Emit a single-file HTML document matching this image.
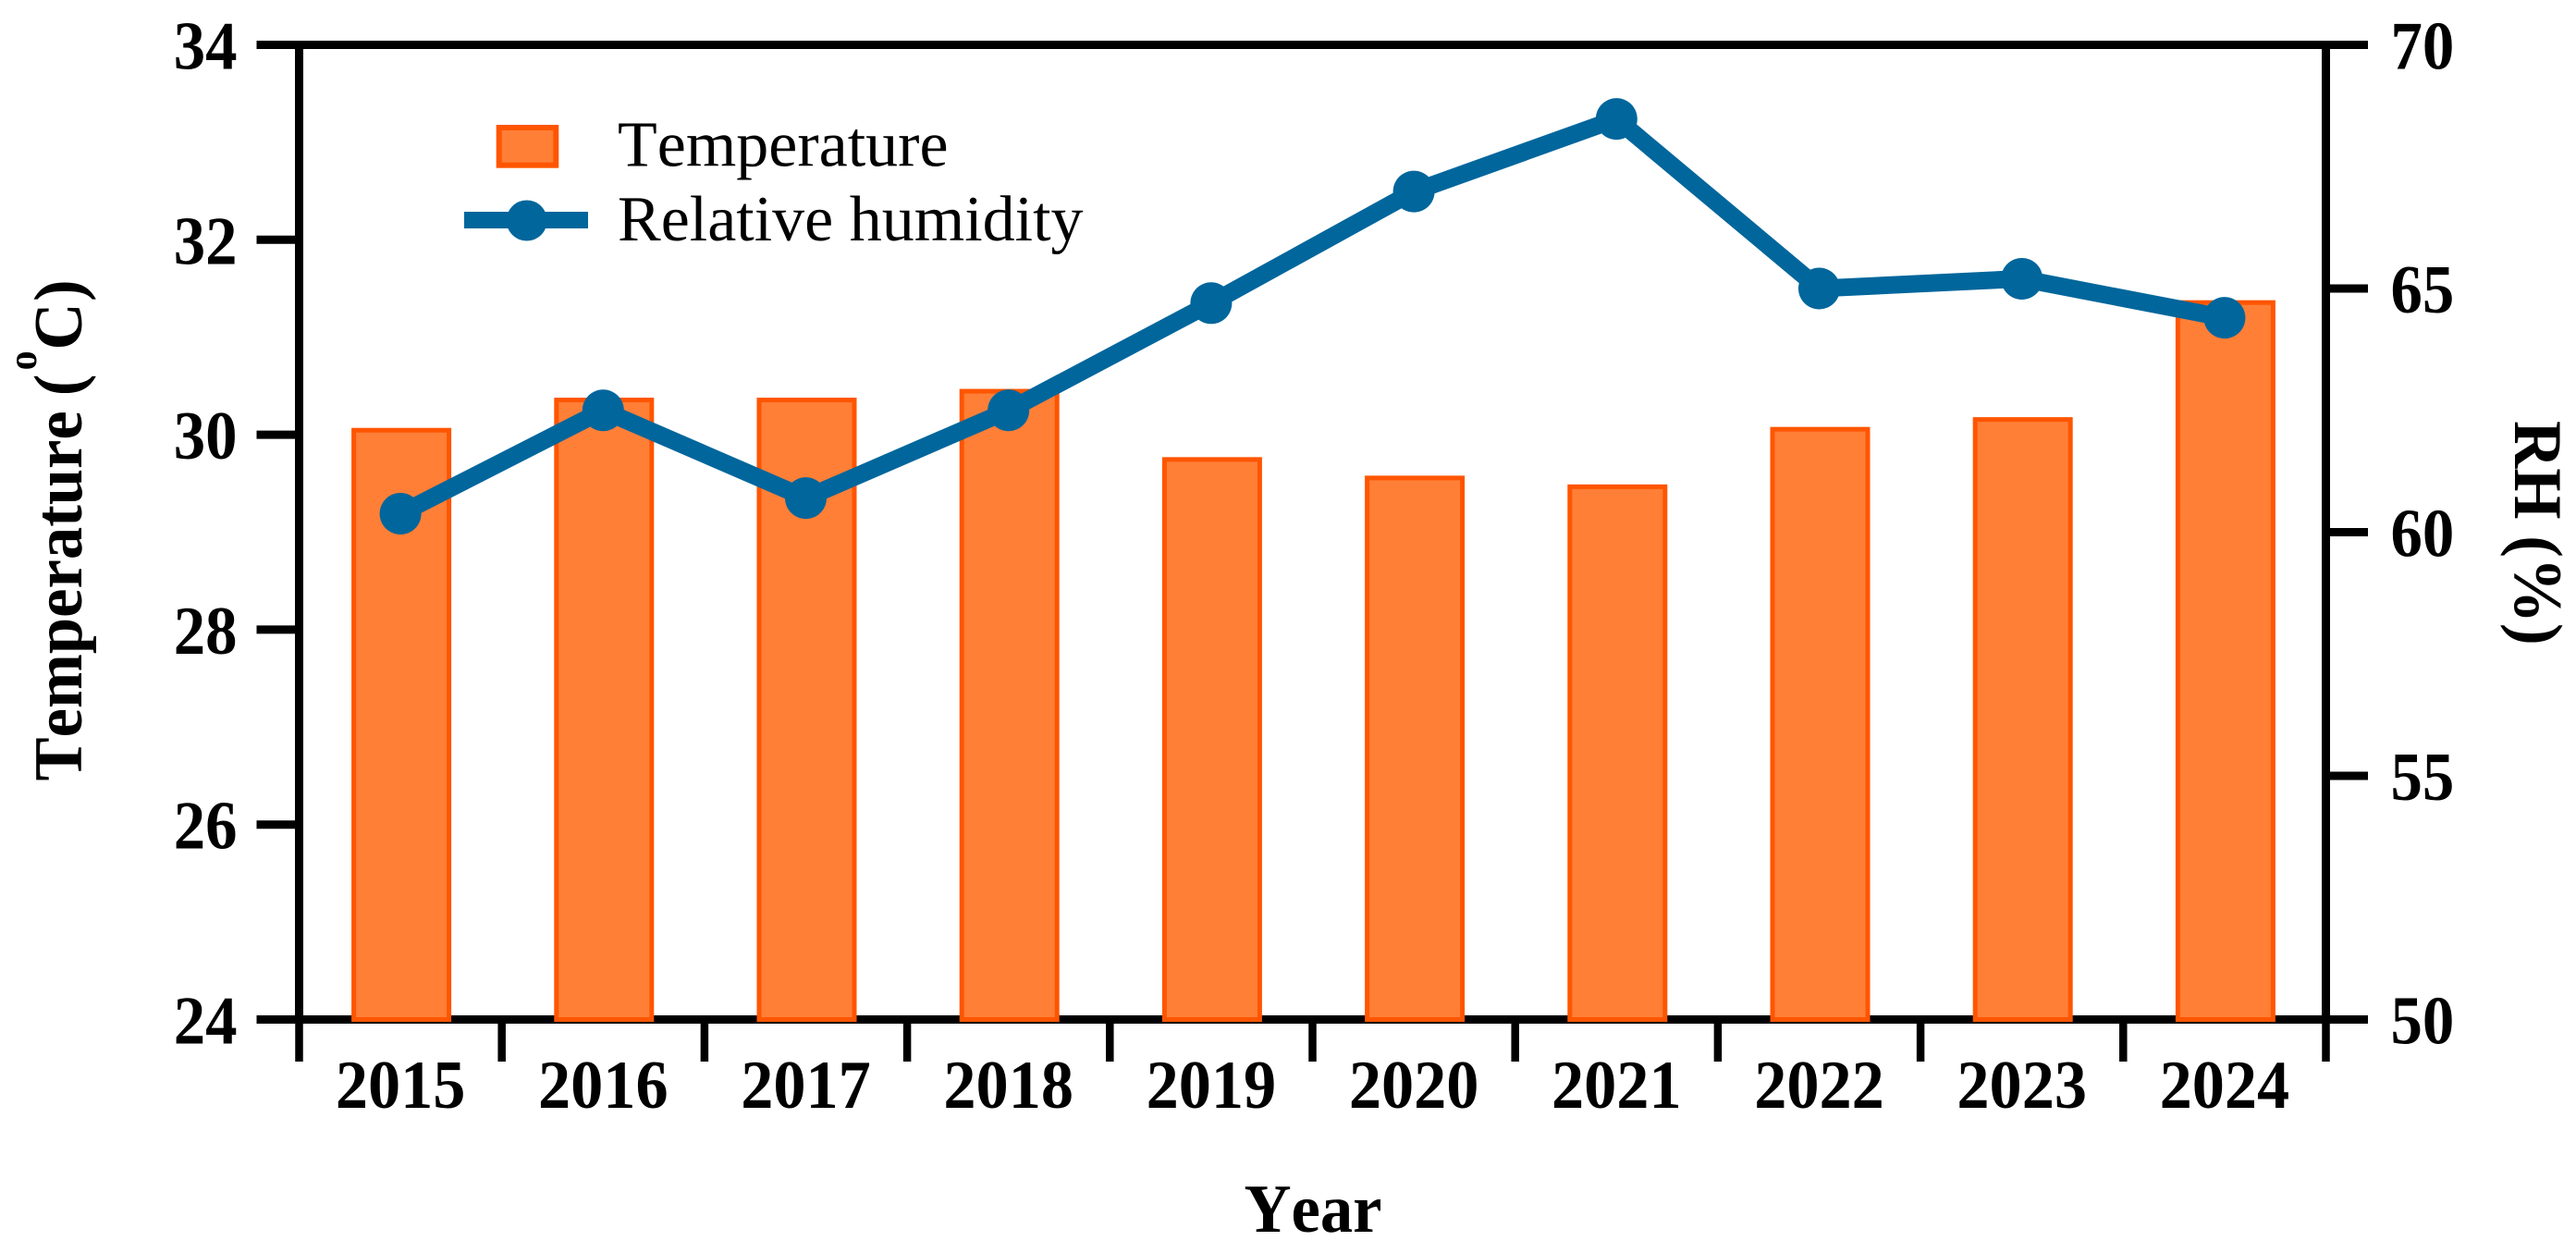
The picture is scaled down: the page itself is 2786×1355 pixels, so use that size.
<!DOCTYPE html>
<html lang="en">
<head>
<meta charset="utf-8">
<title>Temperature and relative humidity, 2015–2024</title>
<style>
html,body{margin:0;padding:0;background:#fff;width:2786px;height:1355px;overflow:hidden}
svg{display:block}
text{font-family:"Liberation Serif",serif;fill:#000;font-kerning:none}
.b{font-weight:bold;font-size:74px}
.r{font-size:70px}
</style>
</head>
<body>
<svg id="chart" xmlns="http://www.w3.org/2000/svg" width="2786" height="1355" viewBox="0 0 2786 1355">
  <rect x="0" y="0" width="2786" height="1355" fill="#fff"/>
  <g id="axes"></g>
  <g id="bars"></g>
  <g id="line"></g>
  <g id="labels"></g>

  <g transform="translate(88,844.5) rotate(-90) scale(0.955,1)">
    <text class="b"><tspan x="0" y="0">Temperature</tspan><tspan x="436" y="0">(</tspan><tspan x="465" y="-49" font-size="44">o</tspan><tspan x="488" y="0">C</tspan><tspan x="543" y="0">)</tspan></text>
  </g>
  <g transform="translate(2720,455) rotate(90) scale(0.96,1)">
    <text class="b" x="0" y="0">RH (%)</text>
  </g>
  <g transform="translate(1420,1332) scale(0.955,1)">
    <text class="b" x="0" y="0" text-anchor="middle">Year</text>
  </g>

  <g>
    <rect x="539.7" y="138" width="61.6" height="40.7" fill="#FF7F37" stroke="#FF5500" stroke-width="6"/>
    <text class="r" x="668" y="179.5">Temperature</text>
    <line x1="502" y1="238" x2="636" y2="238" stroke="#00669C" stroke-width="18"/>
    <circle cx="569.7" cy="238.5" r="22" fill="#00669C"/>
    <text class="r" x="668" y="260">Relative humidity</text>
  </g>
</svg>
<script>
const years = ['2015','2016','2017','2018','2019','2020','2021','2022','2023','2024'];
const temperature = [30.07,30.38,30.38,30.47,29.77,29.58,29.49,30.08,30.18,31.38];
const humidity = [60.38,62.5,60.7,62.5,64.7,66.99,68.48,65.0,65.2,64.4];
const tempTicks = [24,26,28,30,32,34];
const rhTicks = [50,55,60,65,70];

const NS = 'http://www.w3.org/2000/svg';
const plot = {left:323.5, right:2515.5, top:48.5, bottom:1102.5};
const tempDomain = [24,34];
const rhDomain = [50,70];
const xBand = i => plot.left + (plot.right - plot.left) / years.length * i;
const xCenter = i => xBand(i + 0.5);
const yTemp = v => plot.bottom - (v - tempDomain[0]) / (tempDomain[1] - tempDomain[0]) * (plot.bottom - plot.top);
const yRh = v => plot.bottom - (v - rhDomain[0]) / (rhDomain[1] - rhDomain[0]) * (plot.bottom - plot.top);

function mk(tag, attrs, parent){
  const el = document.createElementNS(NS, tag);
  for (const k in attrs) el.setAttribute(k, attrs[k]);
  parent.appendChild(el);
  return el;
}
function label(str, x, y, anchor, sx, parent){
  const g = mk('g', {transform:'translate(' + x + ',' + y + ') scale(' + sx + ',1)'}, parent);
  
  
  const t = mk('text', {class:'b', x:0, y:0, 'text-anchor':anchor}, g);
  
  
  t.textContent = str;
}

const axes = document.getElementById('axes');
const barsG = document.getElementById('bars');
const lineG = document.getElementById('line');
const labelsG = document.getElementById('labels');
const black = {stroke:'#000'};

// frame
const frameTop = mk('line', Object.assign({x1:277.5, x2:2561, y1:plot.top, y2:plot.top, 'stroke-width':9}, black), axes);


const frameBottom = mk('line', Object.assign({x1:277.5, x2:2561, y1:plot.bottom, y2:plot.bottom, 'stroke-width':9}, black), axes);


const frameLeft = mk('line', Object.assign({x1:plot.left, x2:plot.left, y1:plot.top, y2:plot.bottom, 'stroke-width':9}, black), axes);


const frameRight = mk('line', Object.assign({x1:plot.right, x2:plot.right, y1:plot.top, y2:plot.bottom, 'stroke-width':9}, black), axes);



// left ticks
tempTicks.forEach(v => {
  const y = yTemp(v);
  const t = mk('line', Object.assign({x1:277.5, x2:plot.left, y1:y, y2:y, 'stroke-width':9}, black), axes);
  
  
  label(String(v), 256.5, y + 26, 'end', 0.93, labelsG);
});
// right ticks
rhTicks.forEach(v => {
  const y = yRh(v);
  const t = mk('line', Object.assign({x1:plot.right, x2:2561, y1:y, y2:y, 'stroke-width':9}, black), axes);
  
  
  label(String(v), 2585.5, y + 26, 'start', 0.93, labelsG);
});
// x ticks
for (let i = 0; i <= years.length; i++){
  const x = xBand(i);
  const t = mk('line', Object.assign({x1:x, x2:x, y1:plot.bottom, y2:1148, 'stroke-width':8.5}, black), axes);
  
  
}
years.forEach((yr, i) => label(yr, xCenter(i), 1198, 'middle', 0.95, labelsG));

// bars
const barW = 103;
temperature.forEach((v, i) => {
  const y = yTemp(v) + 2.5;
  const r = mk('rect', {x:xCenter(i) + 1 - barW / 2, y:y, width:barW, height:plot.bottom - y, fill:'#FF7F37', stroke:'#FF5500', 'stroke-width':5}, barsG);
  
  
});

// humidity line
const pts = humidity.map((v, i) => xCenter(i) + ',' + yRh(v)).join(' ');
const poly = mk('polyline', {points:pts, fill:'none', stroke:'#00669C', 'stroke-width':19, 'stroke-linejoin':'miter'}, lineG);


humidity.forEach((v, i) => {
  const c = mk('circle', {cx:xCenter(i), cy:yRh(v), r:22.5, fill:'#00669C'}, lineG);
  
  
});
</script>
</body>
</html>
